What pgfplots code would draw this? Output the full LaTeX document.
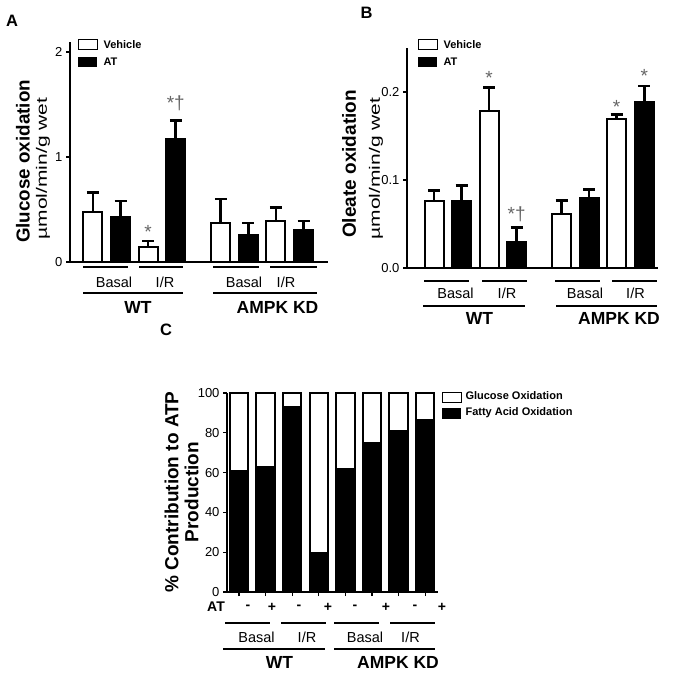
\documentclass[border=0pt]{standalone}
\usepackage{pgfplots}
\pgfplotsset{compat=1.18}
\usepackage{fontspec}
\setmainfont{Liberation Sans}
\newcommand{\fs}[1]{\fontsize{#1}{#1}\selectfont}
\pgfplotsset{
  panel/.style={
    scale only axis,
    anchor=south west,
    axis x line=bottom, axis y line=left,
    axis line style={line width=2.4pt, -},
    tick align=outside,
    major tick length=4pt,
    tick style={line width=1.2pt, black},
    /pgf/number format/assume math mode=true,
    ticklabel style={font=\fs{13}},
    clip=false,
  },
  every error bar/.append style={line width=2.6pt, black},
}
\tikzset{mystar/.style={anchor=base, text=black!60, font=\fs{19}}}
\begin{document}
\begin{tikzpicture}
\path[use as bounding box] (0pt,0pt) rectangle (674pt,673pt);

% ---------------- Panel A ----------------
\begin{axis}[panel, at={(70pt,411pt)}, width=258pt, height=220pt,
  xmin=-0.833, xmax=8.515, ymin=0, ymax=2.095,
  ytick={0,1,2}, xtick=\empty, ybar, bar width=19pt, bar shift=0pt]
\addplot+[draw=black, line width=2pt, fill=white,
  error bars/.cd, y dir=plus, y explicit,
  error bar style={line width=2.6pt, black},
  error mark options={rotate=90, line width=2.6pt, mark size=6pt, black}]
  coordinates {(0,0.48) +- (0,0.18) (2,0.14) +- (0,0.06) (4.63,0.37) +- (0,0.23) (6.63,0.39) +- (0,0.13)};
\addplot+[draw=black, line width=2pt, fill=black,
  error bars/.cd, y dir=plus, y explicit,
  error bar style={line width=2.6pt, black},
  error mark options={rotate=90, line width=2.6pt, mark size=6pt, black}]
  coordinates {(1,0.43) +- (0,0.15) (3,1.17) +- (0,0.18) (5.63,0.26) +- (0,0.11) (7.63,0.30) +- (0,0.09)};
\node[mystar] at (axis cs:2,0.22) {*};
\node[mystar] at (axis cs:3,1.45) {*†};
\end{axis}

% ---------------- Panel B ----------------
\begin{axis}[panel, at={(407pt,405pt)}, width=251pt, height=220pt,
  xmin=-0.98, xmax=8.13, ymin=0, ymax=0.25,
  ytick={0,0.1,0.2}, yticklabels={0.0,0.1,0.2}, xtick=\empty, ybar, bar width=19pt, bar shift=0pt]
\addplot+[draw=black, line width=2pt, fill=white,
  error bars/.cd, y dir=plus, y explicit,
  error bar style={line width=2.6pt, black},
  error mark options={rotate=90, line width=2.6pt, mark size=6pt, black}]
  coordinates {(0,0.0765) +- (0,0.0115) (2,0.178) +- (0,0.027) (4.63,0.061) +- (0,0.0155) (6.63,0.169) +- (0,0.0055)};
\addplot+[draw=black, line width=2pt, fill=black,
  error bars/.cd, y dir=plus, y explicit,
  error bar style={line width=2.6pt, black},
  error mark options={rotate=90, line width=2.6pt, mark size=6pt, black}]
  coordinates {(1,0.076) +- (0,0.018) (3,0.029) +- (0,0.017) (5.63,0.080) +- (0,0.009) (7.63,0.189) +- (0,0.018)};
\node[mystar] at (axis cs:2,0.209) {*};
\node[mystar] at (axis cs:3,0.054) {*†};
\node[mystar] at (axis cs:6.63,0.175) {*};
\node[mystar] at (axis cs:7.63,0.211) {*};
\end{axis}

% ---------------- Panel C ----------------
\begin{axis}[panel, at={(227pt,81pt)}, width=211pt, height=199pt,
  xmin=-0.451, xmax=7.48, ymin=0, ymax=100,
  ytick={0,20,...,100}, xtick={0,...,7}, xticklabels={,,,,,,,},
  ybar stacked, bar width=18.5pt]
\addplot[draw=black, line width=2pt, fill=black] coordinates {(0,60.8) (1,63.0) (2,92.8) (3,19.4) (4,61.6) (5,75.0) (6,80.9) (7,86.4)};
\addplot[draw=black, line width=2pt, fill=white] coordinates {(0,39.2) (1,37.0) (2,7.2) (3,80.6) (4,38.4) (5,25.0) (6,19.1) (7,13.6)};
\end{axis}

% ---------------- Annotations ----------------
\begin{scope}[x=1pt, y=-1pt, shift={(0pt,673pt)}, grp/.style={line width=1.6pt}]
% panel letters
\node[font=\fs{16.5}\bfseries] at (12,21) {A};
\node[font=\fs{16.5}\bfseries] at (366.5,13) {B};
\node[font=\fs{16.5}\bfseries] at (166,330) {C};
% y labels
\node[rotate=90, font=\fs{18.8}\bfseries] at (23,161.5) {Glucose oxidation};
\node[rotate=90, font=\fs{15}] at (43,168.5) {\scalebox{1.4}[1]{µmol/min/g wet}};
\node[rotate=90, font=\fs{19}\bfseries] at (349,164) {Oleate oxidation};
\node[rotate=90, font=\fs{15}] at (376,168.5) {\scalebox{1.4}[1]{µmol/min/g wet}};
\node[rotate=90, font=\fontsize{19}{20}\selectfont\bfseries, align=center] at (181.5,492) {\% Contribution to ATP\\Production};
% legends A and B
\draw[line width=1pt, fill=white] (78,40) rectangle (97,50);
\fill[black] (78,57) rectangle (97,67);
\node[anchor=west, font=\fs{11}\bfseries] at (100,45) {Vehicle};
\node[anchor=west, font=\fs{11}\bfseries] at (100,62) {AT};
\draw[line width=1pt, fill=white] (418,40) rectangle (437,50);
\fill[black] (418,57) rectangle (437,67);
\node[anchor=west, font=\fs{11}\bfseries] at (440,45) {Vehicle};
\node[anchor=west, font=\fs{11}\bfseries] at (440,62) {AT};
% legend C
\draw[line width=1pt, fill=white] (442,392) rectangle (461,402);
\fill[black] (442,408) rectangle (461,419);
\node[anchor=west, font=\fs{11}\bfseries] at (462,396) {Glucose Oxidation};
\node[anchor=west, font=\fs{11}\bfseries] at (462,413) {Fatty Acid Oxidation};
% group lines A
\draw[grp] (83,267)--(128,267) (139,267)--(183,267) (213,267)--(259,267) (270,267)--(317,267);
\draw[grp] (83,293)--(183,293) (213,293)--(317,293);
\node[font=\fs{14.5}] at (114,282) {Basal};
\node[font=\fs{14.5}] at (165,282) {I/R};
\node[font=\fs{14.5}] at (244,282) {Basal};
\node[font=\fs{14.5}] at (286,282) {I/R};
\node[font=\fs{17.5}\bfseries] at (138,307) {WT};
\node[font=\fs{17.5}\bfseries] at (277.5,307) {AMPK KD};
% group lines B
\draw[grp] (424,281)--(469,281) (482,281)--(527,281) (555,281)--(600,281) (612,281)--(657,281);
\draw[grp] (423,306)--(525,306) (556,306)--(657,306);
\node[font=\fs{14.5}] at (455.5,293) {Basal};
\node[font=\fs{14.5}] at (507,293) {I/R};
\node[font=\fs{14.5}] at (585,293) {Basal};
\node[font=\fs{14.5}] at (635.5,293) {I/R};
\node[font=\fs{17.5}\bfseries] at (479.5,318.5) {WT};
\node[font=\fs{17.5}\bfseries] at (619,318.5) {AMPK KD};
% C row
\node[font=\fs{14}\bfseries] at (216,607) {AT};
\foreach \xx/\ss in {248/-,272/+,299/-,328/+,355/-,386/+,415/-,442/+}
  \node[font=\fs{14}\bfseries] at (\xx,607) {\ss};
\draw[grp] (225,623)--(270,623) (281,623)--(326,623) (334,623)--(379,623) (390,623)--(435,623);
\draw[grp] (223,649)--(325,649) (334,649)--(435,649);
\node[font=\fs{14.5}] at (256.5,637.5) {Basal};
\node[font=\fs{14.5}] at (307,637.5) {I/R};
\node[font=\fs{14.5}] at (365,637.5) {Basal};
\node[font=\fs{14.5}] at (410.5,637.5) {I/R};
\node[font=\fs{17.5}\bfseries] at (279.5,662.5) {WT};
\node[font=\fs{17.5}\bfseries] at (398,662.5) {AMPK KD};
\end{scope}
\end{tikzpicture}
\end{document}
